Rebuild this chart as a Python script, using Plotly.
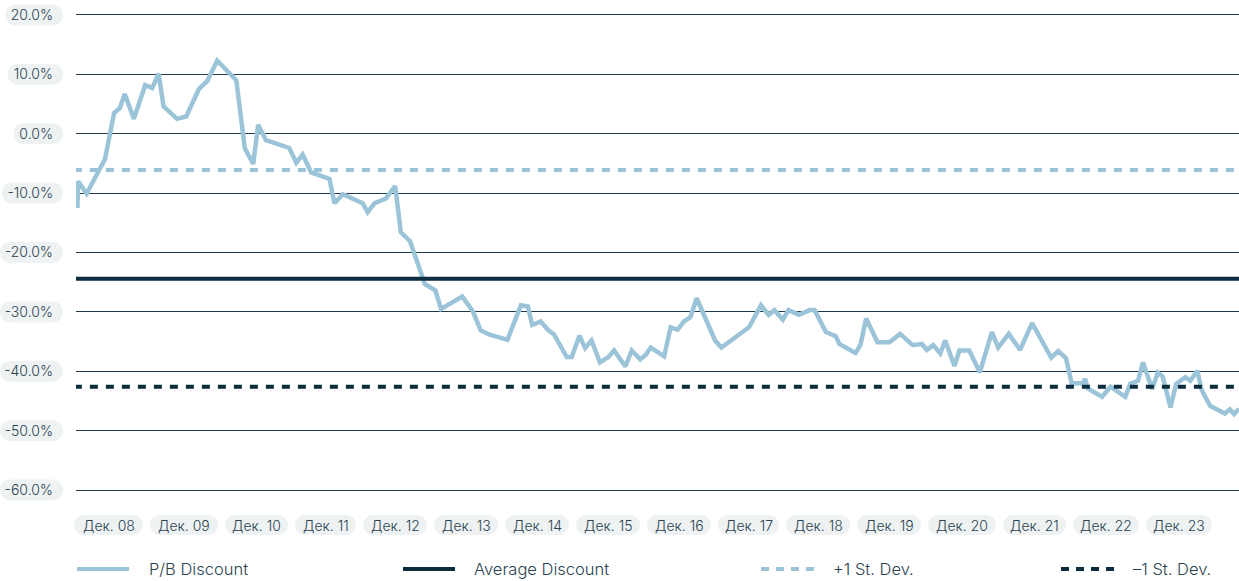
import plotly.graph_objects as go

# ---------------- data ----------------
pb_x = [2008.45, 2008.46, 2008.58, 2008.72, 2008.84, 2008.97, 2009.05, 2009.12, 2009.25, 2009.41,
        2009.51, 2009.60, 2009.67, 2009.86, 2009.99, 2010.17, 2010.29, 2010.43, 2010.70, 2010.82,
        2010.94, 2011.01, 2011.12, 2011.45, 2011.55, 2011.64, 2011.74, 2011.76, 2012.02, 2012.09,
        2012.21, 2012.49, 2012.56, 2012.66, 2012.82, 2012.95, 2013.03, 2013.16, 2013.37, 2013.52,
        2013.60, 2013.90, 2014.05, 2014.16, 2014.28, 2014.54, 2014.73, 2014.83, 2014.89, 2015.01,
        2015.12, 2015.20, 2015.38, 2015.45, 2015.56, 2015.64, 2015.73, 2015.85, 2015.97, 2016.05,
        2016.21, 2016.30, 2016.42, 2016.50, 2016.57, 2016.76, 2016.85, 2016.95, 2017.04, 2017.13,
        2017.22, 2017.36, 2017.48, 2017.57, 2017.96, 2018.13, 2018.24, 2018.32, 2018.44, 2018.52,
        2018.67, 2018.82, 2018.89, 2019.05, 2019.19, 2019.24, 2019.47, 2019.54, 2019.62, 2019.78,
        2019.95, 2020.10, 2020.28, 2020.41, 2020.48, 2020.57, 2020.67, 2020.74, 2020.87, 2020.94,
        2021.08, 2021.23, 2021.40, 2021.49, 2021.64, 2021.80, 2021.97, 2022.24, 2022.34, 2022.45,
        2022.53, 2022.68, 2022.72, 2022.76, 2022.96, 2023.08, 2023.29, 2023.36, 2023.47, 2023.54,
        2023.67, 2023.75, 2023.82, 2023.93, 2024.01, 2024.14, 2024.21, 2024.31, 2024.37, 2024.49,
        2024.70, 2024.77, 2024.83, 2024.90]
pb_discount = [-12.5, -8.0, -10.1, -6.9, -4.3, 3.5, 4.3, 6.7, 2.5, 8.2,
               7.7, 10.1, 4.6, 2.5, 2.9, 7.5, 8.9, 12.3, 9.0, -2.4,
               -5.1, 1.5, -1.1, -2.4, -4.9, -3.5, -5.8, -6.5, -7.6, -11.7,
               -10.2, -11.7, -13.2, -11.7, -10.9, -8.8, -16.6, -18.1, -25.3, -26.4,
               -29.5, -27.4, -29.9, -33.1, -33.8, -34.7, -28.9, -29.1, -32.2, -31.6,
               -33.1, -33.8, -37.6, -37.6, -34.0, -36.1, -34.8, -38.5, -37.6, -36.5,
               -39.2, -36.5, -38.0, -37.2, -36.0, -37.5, -32.6, -33.0, -31.6, -30.9,
               -27.7, -31.6, -34.8, -36.0, -32.6, -28.9, -30.5, -29.7, -31.3, -29.7,
               -30.5, -29.7, -29.7, -33.4, -34.1, -35.4, -36.9, -35.5, -31.1, -35.1,
               -35.1, -33.7, -35.6, -35.4, -36.4, -35.6, -37.0, -34.8, -39.1, -36.5,
               -36.5, -40.2, -33.4, -36.0, -33.7, -36.4, -31.9, -37.7, -36.6, -37.8,
               -42.0, -42.0, -41.3, -42.9, -44.3, -42.6, -44.3, -42.1, -41.6, -38.5,
               -43.0, -40.2, -40.9, -46.1, -42.1, -41.0, -41.6, -39.9, -43.1, -45.8,
               -47.1, -46.4, -47.2, -46.3]
average_discount = -24.4
plus_one_sd = -6.1
minus_one_sd = -42.6

y_ticks = [20, 10, 0, -10, -20, -30, -40, -50, -60]
y_tick_labels = ["20.0%", "10.0%", "0.0%", "-10.0%", "-20.0%", "-30.0%", "-40.0%", "-50.0%", "-60.0%"]
x_labels = ["Дек. 08", "Дек. 09", "Дек. 10", "Дек. 11", "Дек. 12", "Дек. 13", "Дек. 14", "Дек. 15",
            "Дек. 16", "Дек. 17", "Дек. 18", "Дек. 19", "Дек. 20", "Дек. 21", "Дек. 22", "Дек. 23"]
legend_names = ["P/B Discount", "Average Discount", "+1 St. Dev.", "–1 St. Dev."]

# ---------------- style / layout ----------------
W, H = 1239, 581
ML, MR, MT, MB = 76, 0, 9, 85
PW, PH = W - ML - MR, H - MT - MB
Y_RANGE = [-61, 21]
LIGHT = "#9cc4d8"
DARK = "#0c2d3d"
GRID = "#1f3c4b"
TEXT = "#2a4250"
PILL = "#eef2f3"
FONT = "Inter"


def px_to_paper_x(px):
    return (px - ML) / PW


def px_to_paper_y(py):
    return (H - MB - py) / PH


def value_to_paper_y(v):
    return (v - Y_RANGE[0]) / (Y_RANGE[1] - Y_RANGE[0])


def pill_path(w, h):
    r = h / 2.0
    k = 0.5523 * r
    a, b = w / 2.0, h / 2.0
    return (f"M {-a + r},{-b} L {a - r},{-b} "
            f"C {a - r + k},{-b} {a},{-k} {a},0 "
            f"C {a},{k} {a - r + k},{b} {a - r},{b} "
            f"L {-a + r},{b} "
            f"C {-a + r - k},{b} {-a},{k} {-a},0 "
            f"C {-a},{-k} {-a + r - k},{-b} {-a + r},{-b} Z")


def text_width(s):
    cw = {"1": 6.0, ".": 3.5, "%": 12.0, "-": 5.5}
    return sum(cw.get(c, 8.0) for c in s)


fig = go.Figure()

fig.add_trace(go.Scatter(x=pb_x, y=pb_discount, mode="lines", name=legend_names[0],
                         line=dict(color=LIGHT, width=4.5), showlegend=False, hoverinfo="skip"))
x_span = [pb_x[0] - 0.05, pb_x[-1] + 0.05]
fig.add_trace(go.Scatter(x=x_span, y=[plus_one_sd] * 2, mode="lines", name=legend_names[2],
                         line=dict(color=LIGHT, width=4, dash="8px,8px"), showlegend=False))
fig.add_trace(go.Scatter(x=x_span, y=[average_discount] * 2, mode="lines", name=legend_names[1],
                         line=dict(color=DARK, width=4), showlegend=False))
fig.add_trace(go.Scatter(x=x_span, y=[minus_one_sd] * 2, mode="lines", name=legend_names[3],
                         line=dict(color=DARK, width=4, dash="8px,8px"), showlegend=False))

shapes = []
annotations = []

# y-axis tick pills (labels drawn by the axis itself)
for v, lab in zip(y_ticks, y_tick_labels):
    w = text_width(lab) + 18
    shapes.append(dict(type="path", xref="paper", yref="paper", xsizemode="pixel", ysizemode="pixel",
                       xanchor=px_to_paper_x(63 - w / 2), yanchor=value_to_paper_y(v),
                       path=pill_path(w, 21), fillcolor=PILL, line=dict(width=0), layer="below"))

# x-axis label pills
x_pill_widths = [69, 68, 63, 61, 64, 64, 64, 64, 64, 61, 64, 64, 68, 63, 66, 66]
left = 74
for lab, w in zip(x_labels, x_pill_widths):
    cx = left + w / 2
    shapes.append(dict(type="path", xref="paper", yref="paper", xsizemode="pixel", ysizemode="pixel",
                       xanchor=px_to_paper_x(cx), yanchor=px_to_paper_y(525), path=pill_path(w, 20),
                       fillcolor=PILL, line=dict(width=0), layer="below"))
    annotations.append(dict(text=lab, x=px_to_paper_x(cx), y=px_to_paper_y(525), xref="paper",
                            yref="paper", showarrow=False, xanchor="center", yanchor="middle",
                            font=dict(family=FONT, size=14, color=TEXT, weight=300)))
    left += w + 7

# manual legend
ly = px_to_paper_y(569)
legend_items = [
    (77, 129, LIGHT, None, 147),
    (403, 455, DARK, None, 472),
    (761, 815, LIGHT, "8px,7px", 831),
    (1061, 1115, DARK, "8px,7px", 1131),
]
for (x0, x1, col, dash, tx), name in zip(legend_items, legend_names):
    ln = dict(color=col, width=4)
    if dash:
        ln["dash"] = dash
    shapes.append(dict(type="line", xref="paper", yref="paper", x0=px_to_paper_x(x0), x1=px_to_paper_x(x1),
                       y0=ly, y1=ly, line=ln))
    annotations.append(dict(text=name, x=px_to_paper_x(tx), y=ly, xref="paper", yref="paper",
                            showarrow=False, xanchor="left", yanchor="middle",
                            font=dict(family=FONT, size=16.5, color=TEXT, weight=300)))

fig.update_layout(
    width=W, height=H,
    margin=dict(l=ML, r=MR, t=MT, b=MB, pad=0, autoexpand=False),
    paper_bgcolor="white", plot_bgcolor="white",
    showlegend=False,
    shapes=shapes, annotations=annotations,
    xaxis=dict(range=[2008.43, 2024.9], showgrid=False, zeroline=False, showticklabels=False,
               showline=False, ticks="", automargin=False),
    yaxis=dict(range=Y_RANGE, tickvals=y_ticks, ticktext=y_tick_labels, showgrid=True,
               gridcolor=GRID, gridwidth=1, zeroline=False, showline=False, ticks="",
               ticklabelstandoff=22, automargin=False,
               tickfont=dict(family=FONT, size=14, color=TEXT, weight=300)),
)

fig.write_html("out.html", config={"displayModeBar": False},
               post_script="document.body.style.margin='0px';document.body.style.padding='0px';")
